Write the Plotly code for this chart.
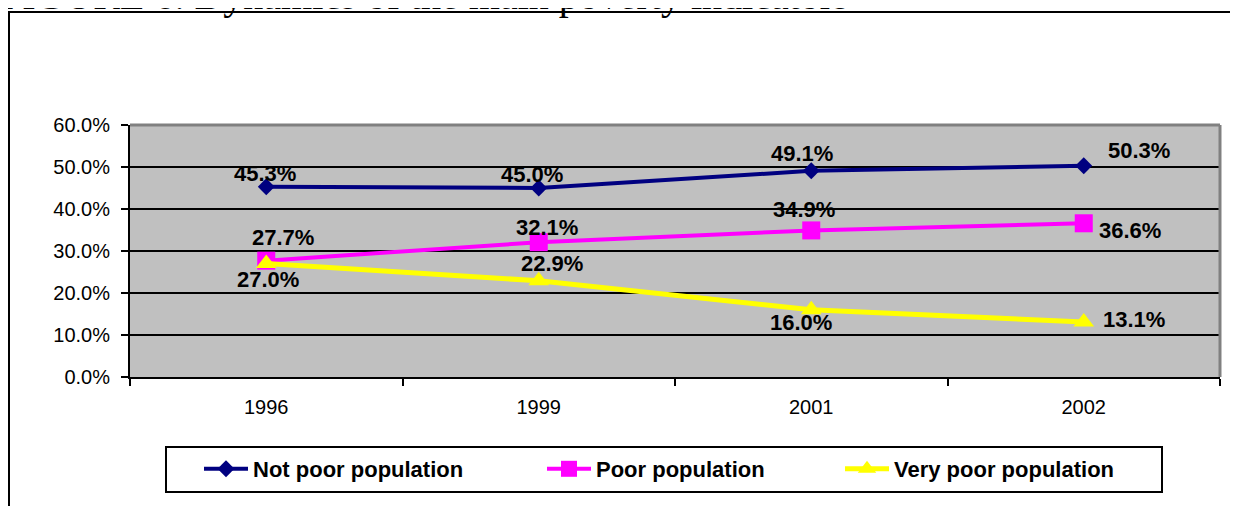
import plotly.graph_objects as go

years = ["1996", "1999", "2001", "2002"]
not_poor = [45.3, 45.0, 49.1, 50.3]
poor = [27.7, 32.1, 34.9, 36.6]
very_poor = [27.0, 22.9, 16.0, 13.1]

series_names = ["Not poor population", "Poor population", "Very poor population"]
title_text = "FIGURE 6. Dynamics of the main poverty indicators"

# page has an 8px body margin, so the figure is sized to fill the rest of the window
OFF = 8
W, H = 1238 - OFF, 506 - OFF
L, T = 130 - OFF, 125 - OFF
R, B = W - (1220 - OFF), H - (377 - OFF)
PW, PH = W - L - R, H - T - B


def px_x(p):
    # page pixel -> paper x
    return (p - OFF - L) / PW


def px_y(p):
    # page pixel -> paper y
    return (H - B - (p - OFF)) / PH


FONT = "Arial, Liberation Sans, sans-serif"

styles = [
    dict(color="#000080", symbol="diamond", size=13, lw=4, legw=284),
    dict(color="#FF00FF", symbol="square", size=18, lw=4, legw=239),
    dict(color="#FFFF00", symbol="triangle-up", size=18, lw=5, legw=None),
]
# label centre offsets from the marker, in pixels (dx right, dy down)
label_offsets = [
    [(-1, -13), (-7, -14), (-9, -17), (55, -15)],
    [(17, -23), (8, -15), (-7, -21), (46, 7)],
    [(2, 16), (13, -17), (-10, 13), (50, -2)],
]

fig = go.Figure()
annotations = []

for name, vals, st, offs in zip(series_names, [not_poor, poor, very_poor], styles, label_offsets):
    tr = dict(
        x=years, y=vals,
        mode="lines+markers",
        name=name,
        line=dict(color=st["color"], width=st["lw"]),
        marker=dict(symbol=st["symbol"], size=st["size"], color=st["color"]),
    )
    if st["legw"]:
        tr["legendwidth"] = st["legw"]
    fig.add_trace(go.Scatter(**tr))
    for i, (v, (dx, dy)) in enumerate(zip(vals, offs)):
        annotations.append(dict(
            x=i, y=v, xref="x", yref="y",
            text=f"{v:.1f}%",
            showarrow=False,
            xanchor="center", yanchor="middle",
            xshift=dx, yshift=-dy,
            font=dict(family=FONT, size=22, color="black", weight="bold"),
        ))

annotations.append(dict(
    text=title_text, xref="paper", yref="paper",
    x=px_x(-2), xanchor="left", y=px_y(20), yanchor="bottom",
    showarrow=False,
    font=dict(family="Liberation Serif, Times New Roman, serif", size=40, color="black"),
))

fig.update_layout(
    width=W, height=H,
    margin=dict(l=L, r=R, t=T, b=B),
    paper_bgcolor="white",
    plot_bgcolor="#C0C0C0",
    font=dict(family=FONT, color="black"),
    showlegend=True,
    legend=dict(
        orientation="h",
        x=px_x(199), xanchor="left",
        y=px_y(469), yanchor="middle",
        borderwidth=0,
        bgcolor="rgba(0,0,0,0)",
        itemwidth=44,
        font=dict(family=FONT, size=22, color="black", weight="bold"),
    ),
    xaxis=dict(
        type="category",
        range=[-0.5, 3.5],
        showgrid=False,
        showline=True, linecolor="black", linewidth=2,
        ticks="outside", tickson="boundaries", ticklen=7, tickwidth=2, tickcolor="black",
        tickfont=dict(size=20, color="black"),
        ticklabelstandoff=11,
    ),
    yaxis=dict(
        range=[0, 60],
        dtick=10,
        tickformat=".1f", ticksuffix="%",
        showgrid=True, gridcolor="black", gridwidth=2,
        zeroline=False,
        showline=True, linecolor="black", linewidth=2,
        ticks="outside", ticklen=7, tickwidth=2, tickcolor="black",
        tickfont=dict(size=20, color="black"),
        ticklabelstandoff=7,
    ),
    shapes=[
        dict(type="line", xref="paper", yref="paper", x0=0, x1=1, y0=1, y1=1,
             line=dict(color="#808080", width=3), layer="above"),
        dict(type="line", xref="paper", yref="paper", x0=1, x1=1, y0=0, y1=1,
             line=dict(color="#808080", width=3), layer="above"),
        dict(type="rect", xref="paper", yref="paper",
             x0=px_x(9), x1=px_x(1250), y0=px_y(12), y1=px_y(520),
             line=dict(color="black", width=2), layer="below"),
        dict(type="rect", xref="paper", yref="paper",
             x0=px_x(166), x1=px_x(1162), y0=px_y(447), y1=px_y(492),
             line=dict(color="black", width=2), fillcolor="white", layer="above"),
    ],
    annotations=annotations,
)

fig.write_html("out.html")
